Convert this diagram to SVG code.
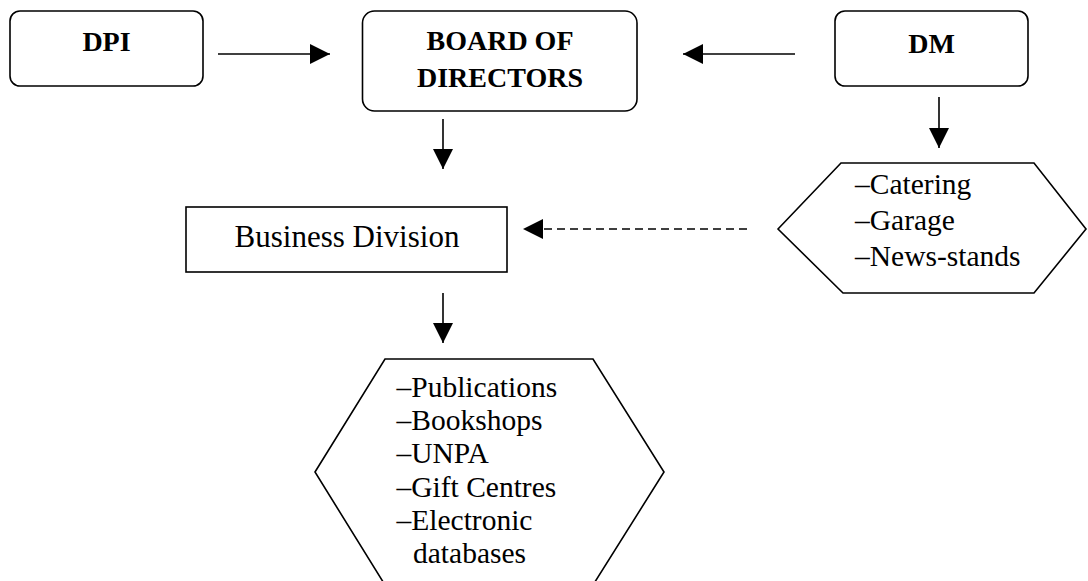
<svg xmlns="http://www.w3.org/2000/svg" width="1088" height="581" viewBox="0 0 1088 581">
<defs>
<style>
.box{fill:#fff;stroke:#000;stroke-width:1.6}
.b{font-family:"Liberation Serif","Times New Roman",serif;font-weight:bold;font-size:28px;fill:#000;text-anchor:middle}
.r{font-family:"Liberation Serif","Times New Roman",serif;font-size:29.5px;fill:#000}
.ln{stroke:#000;stroke-width:1.6;fill:none}
.dash{stroke-dasharray:8 5}
</style>
<marker id="ah" viewBox="0 0 20 20" refX="20" refY="10" markerWidth="20" markerHeight="20" markerUnits="userSpaceOnUse" orient="auto">
<path d="M0,0 L20,10 L0,20 Z" fill="#000"/>
</marker>
</defs>
<rect width="1088" height="581" fill="#fff"/>
<g id="dpi">
<rect class="box" x="10" y="11" width="193" height="75" rx="10"/>
<text class="b" x="106.5" y="51">DPI</text>
</g>
<g id="board">
<rect class="box" x="362.5" y="11" width="274.5" height="100" rx="12"/>
<text class="b" x="500" y="50">BOARD OF</text>
<text class="b" x="500" y="87">DIRECTORS</text>
</g>
<g id="dm">
<rect class="box" x="835" y="11" width="193" height="75" rx="10"/>
<text class="b" x="931.5" y="53">DM</text>
</g>
<g id="business">
<rect class="box" x="186" y="207" width="321" height="65"/>
<text class="r" x="347" y="247" text-anchor="middle" style="font-size:31px">Business Division</text>
</g>
<g id="dmlist">
<polygon class="box" points="778,229 841,163 1034,163 1086,229 1034,293 843,293"/>
<text class="r" x="855" y="194">–Catering</text>
<text class="r" x="855" y="230">–Garage</text>
<text class="r" x="855" y="266">–News-stands</text>
</g>
<g id="bizlist">
<polygon class="box" points="315,472 385,359 593,359 664,472 593,585 385,585"/>
<text class="r" x="396.5" y="397">–Publications</text>
<text class="r" x="396.5" y="430">–Bookshops</text>
<text class="r" x="396.5" y="463">–UNPA</text>
<text class="r" x="396.5" y="497">–Gift Centres</text>
<text class="r" x="396.5" y="530">–Electronic</text>
<text class="r" x="413" y="563">databases</text>
</g>
<g id="connectors">
<line class="ln" x1="218" y1="54" x2="330" y2="54" marker-end="url(#ah)"/>
<line class="ln" x1="795" y1="54" x2="683" y2="54" marker-end="url(#ah)"/>
<line class="ln" x1="443" y1="119" x2="443" y2="169" marker-end="url(#ah)"/>
<line class="ln" x1="939" y1="97" x2="939" y2="148" marker-end="url(#ah)"/>
<line class="ln" x1="443" y1="293" x2="443" y2="343" marker-end="url(#ah)"/>
<line class="ln dash" x1="747" y1="229" x2="543" y2="229"/>
<path d="M543,219 L523,229 L543,239 Z" fill="#000"/>
</g>
</svg>
